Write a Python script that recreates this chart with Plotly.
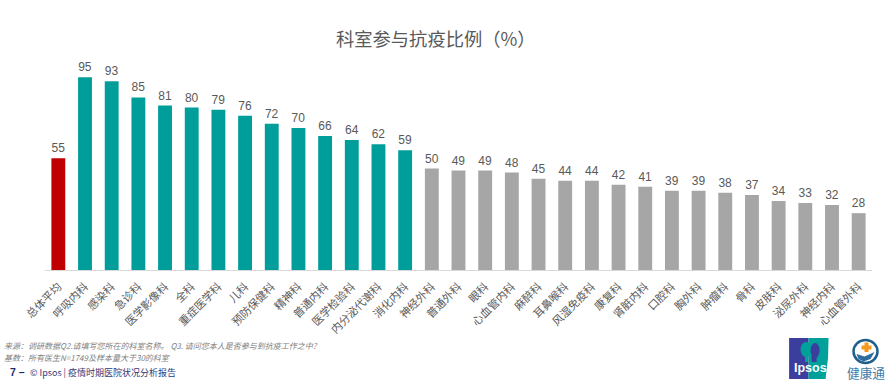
import plotly.graph_objects as go

categories = ["总体平均", "呼吸内科", "感染科", "急诊科", "医学影像科", "全科", "重症医学科", "儿科", "预防保健科", "精神科",
              "普通内科", "医学检验科", "内分泌代谢科", "消化内科", "神经外科", "普通外科", "眼科", "心血管内科", "麻醉科",
              "耳鼻喉科", "风湿免疫科", "康复科", "肾脏内科", "口腔科", "胸外科", "肿瘤科", "骨科", "皮肤科", "泌尿外科",
              "神经内科", "心血管外科"]
values = [55, 95, 93, 85, 81, 80, 79, 76, 72, 70, 66, 64, 62, 59, 50, 49, 49, 48, 45, 44, 44, 42, 41, 39, 39, 38, 37, 34, 33, 32, 28]
groups = ["avg"] + ["teal"] * 13 + ["gray"] * 17
palette = {"avg": "#C00000", "teal": "#009E9A", "gray": "#A6A6A6"}

W, H = 888, 389
L, R, T, B = 44.6, 872.5, 40.0, 270.0
FONT = "Liberation Sans, Noto Sans CJK SC, sans-serif"
CJK = "Noto Sans CJK SC, Liberation Sans, sans-serif"


def px(x):
    return (x - L) / (R - L)


def py(y):
    return (B - y) / (B - T)


def note(x, y, text, size, color, anchor="left", italic=False, family=CJK):
    return dict(xref="paper", yref="paper", x=px(x), y=py(y), text=f"<i>{text}</i>" if italic else text,
                showarrow=False, xanchor=anchor, yanchor="middle",
                font=dict(size=size, color=color, family=family))


def box(x0, y0, x1, y1, fill, kind="rect"):
    return dict(type=kind, xref="paper", yref="paper", x0=px(x0), x1=px(x1), y0=py(y0), y1=py(y1),
                fillcolor=fill, line=dict(width=0), layer="above")


def ring(x0, y0, x1, y1, color, width):
    return dict(type="circle", xref="paper", yref="paper", x0=px(x0), x1=px(x1), y0=py(y0), y1=py(y1),
                fillcolor="white", line=dict(width=width, color=color), layer="above")


def poly(points, fill):
    d = "M " + " L ".join(f"{px(a):.5f},{py(b):.5f}" for a, b in points) + " Z"
    return dict(type="path", xref="paper", yref="paper", path=d, fillcolor=fill, line=dict(width=0), layer="above")


fig = go.Figure(go.Bar(
    x=categories, y=values,
    marker=dict(color=[palette[g] for g in groups], line=dict(width=0)),
    text=values, textposition="outside", cliponaxis=False,
    textfont=dict(size=12, color="#595959", family=FONT),
    hoverinfo="x+y",
))

shapes = [
    # Ipsos logo
    poly([(789.5, 338), (809, 338), (809, 379), (789.5, 379)], "#3B3E9C"),
    poly([(809, 338), (829, 338), (828.5, 358), (826, 379), (809, 379)], "#00A19A"),
    box(801, 342, 812, 357, "#00A19A", "circle"),
    box(805.5, 355, 808.5, 362, "#00A19A"),
    box(811, 343, 820, 358, "#3B3E9C", "circle"),
    box(812, 355, 817, 362, "#3B3E9C"),
    # 健康通 logo
    ring(854, 340, 878, 363, "#1F5F8B", 2.5),
    poly([(857, 354), (865, 356.5), (875, 352), (871, 359), (864, 361.5), (859, 359)], "#2D6E9E"),
    box(865, 342.5, 869, 352, "#F39A1E"),
    box(862, 345.5, 872, 349.5, "#F39A1E"),
]

annotations = [
    note(436.5, 38, "科室参与抗疫比例（%）", 18.3, "#595959", anchor="center"),
    note(2, 346, "来源：调研数据Q2.请填写您所在的科室名称。 Q3. 请问您本人是否参与到抗疫工作之中?", 8, "#7F7F7F", italic=True),
    note(2, 357, "基数：所有医生N=1749及样本量大于30的科室", 8, "#7F7F7F", italic=True),
    note(8, 372, "<b>7 –</b>", 10.5, "#1F2A6B", family=FONT),
    note(28, 372, "© Ipsos | 疫情时期医院状况分析报告", 9, "#2F3A7A"),
    note(811, 368, "<b>Ipsos</b>", 12.5, "white", anchor="center", family=FONT),
    note(866, 372, "健康通", 12.7, "#3F7CA8", anchor="center"),
]

fig.update_layout(
    width=W, height=H, autosize=False,
    margin=dict(l=L, r=W - R, t=T, b=H - B, pad=0),
    paper_bgcolor="white", plot_bgcolor="white",
    bargap=0.48, showlegend=False,
    shapes=shapes, annotations=annotations,
    xaxis=dict(type="category", tickangle=-45, ticks="outside", ticklen=5, tickcolor="white", showgrid=False,
               showline=True, linecolor="#D9D9D9", linewidth=1, automargin=False,
               tickfont=dict(size=11, color="#595959", family=CJK)),
    yaxis=dict(range=[0, 113.3], visible=False, showgrid=False, fixedrange=True),
)

fig.write_html("out.html", config={"displayModeBar": False},
               post_script="document.body.style.margin='0';")
